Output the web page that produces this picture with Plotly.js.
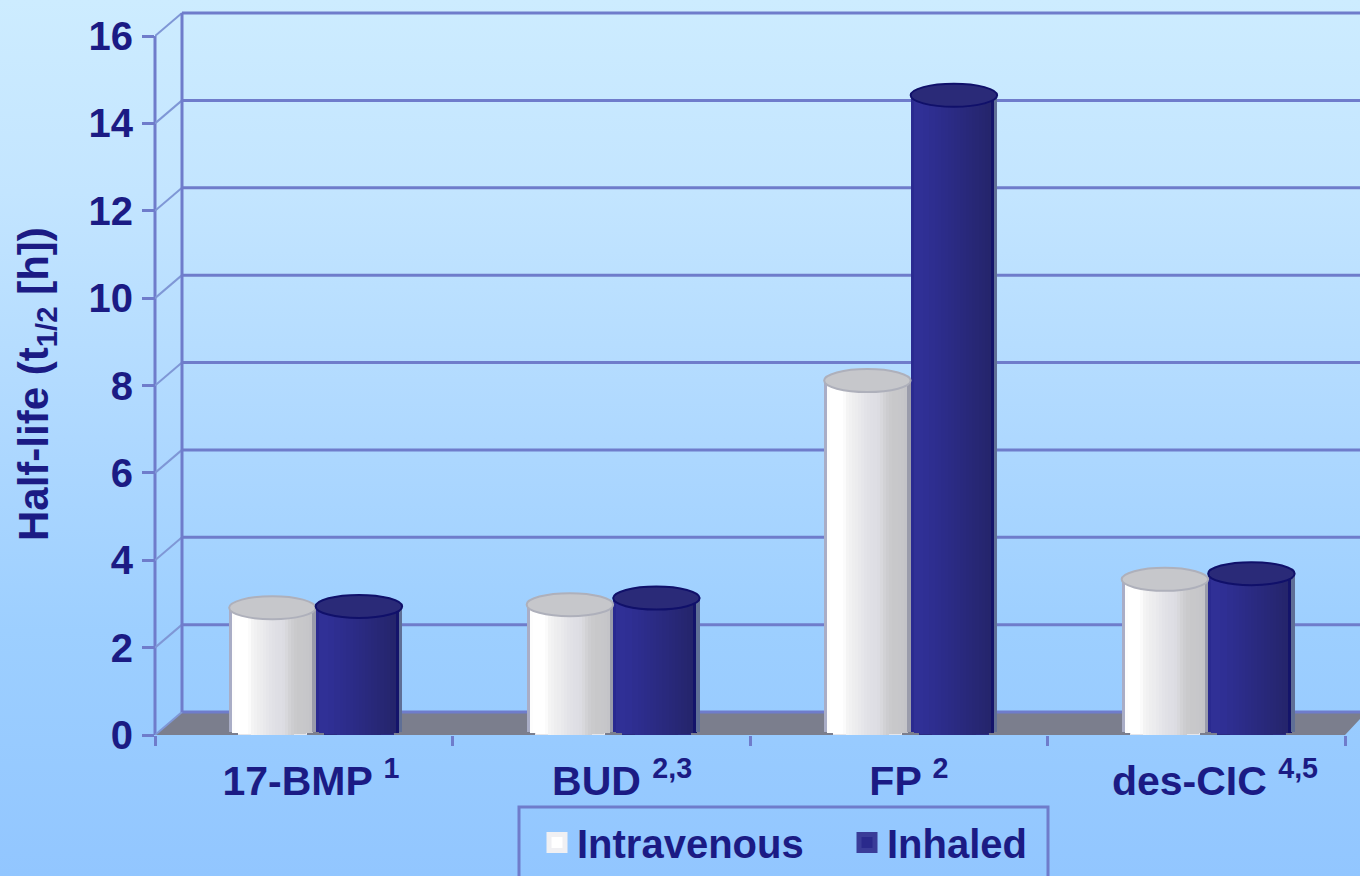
<!DOCTYPE html>
<html>
<head>
<meta charset="utf-8">
<title>Half-life of inhaled corticosteroids</title>
<script src="https://cdn.plot.ly/plotly-3.0.1.min.js"></script>
<style>
  html, body { margin: 0; padding: 0; width: 1360px; height: 876px; overflow: hidden;
    background: linear-gradient(180deg, #cdecff 0%, #c3e5ff 22%, #aed8ff 50%, #9dcfff 72%, #92c6ff 100%); }
  #chart { width: 1360px; height: 876px; }
</style>
</head>
<body>
<div id="chart"></div>
<script>
// Half-life values per compound
const categories = ['17-BMP', 'BUD', 'FP', 'des-CIC'];
const citations = ['1', '2,3', '2', '4,5'];
const intravenous = [2.65, 2.72, 7.85, 3.3];
const inhaled = [2.68, 2.87, 14.38, 3.43];

const yTicks = [0, 2, 4, 6, 8, 10, 12, 14, 16];
const labelPositions = [0.024, 1.07, 2.034, 3.063];
const categoryEdges = [-0.5, 0.5, 1.5, 2.5, 3.5];

// Horizontal shading bands across each cylinder, left to right
const whiteBands = ['#a9adc6', '#fdfdfd', '#ffffff', '#ffffff', '#ffffff', '#ffffff', '#fbfbfb', '#f4f4f4', '#f1f1f2', '#eeeeef', '#ececee', '#e9e9ec', '#e6e6ea', '#e3e3e8', '#e1e1e6', '#dfdfe5', '#dedee4', '#dcdce2', '#d8d8dc', '#d2d2d5', '#cdcdd0', '#cacacc', '#c8c8ca', '#c8c8ca', '#c7c7ca', '#c6c6c9', '#c4c4c8', '#9a9cab'];
const navyBands = ['#2a2a90', '#303096', '#303096', '#303096', '#2f2f94', '#2f2f94', '#2e2e90', '#2e2e90', '#2d2d8e', '#2d2d8c', '#2c2c8a', '#2c2c88', '#2b2b86', '#2b2b84', '#2a2a82', '#2a2a80', '#29297e', '#29297c', '#28287a', '#282878', '#272776', '#272774', '#262672', '#262670', '#25256e', '#25256c', '#14146a', '#5f6f96'];

// Chart geometry, in axis units
const PX_PER_CATEGORY = 297.5;
const PX_PER_UNIT = 699 / 16;
const PLOT_LEFT = 155, PLOT_BOTTOM = 735, PLOT_TOP = 5, PLOT_WIDTH = 1205;
const wallDx = 27 / PX_PER_CATEGORY;
const wallDy = 23 / PX_PER_UNIT;
const xMin = -0.5, xMax = xMin + PLOT_WIDTH / PX_PER_CATEGORY;
const yMax = (PLOT_BOTTOM - PLOT_TOP) / PX_PER_UNIT;
const barWidth = 86.5 / PX_PER_CATEGORY;
const groupShift = 0.04;
const capHeight = wallDy;
const cornerLift = 0.1;

const GRID = '#6f7ccb';
const INK = '#1b1b84';
const FONT = 'Liberation Sans, Arial, sans-serif';

const categoryIndex = categories.map((_, i) => i);
const traces = [];

// Solid core of each cylinder, one bar per value
function coreBar(values, colour, side) {
  return {
    type: 'bar', x: categoryIndex.map(i => i + groupShift + side * barWidth / 2), y: values,
    width: barWidth * 0.8, marker: { color: colour, line: { width: 0 } },
    showlegend: false, hoverinfo: 'skip'
  };
}
traces.push(coreBar(intravenous, '#e6e6ea', -1));
traces.push(coreBar(inhaled, '#2a2a80', 1));

// Shading bands, rising to the middle of the top cap and rounded at the foot
function shadeBands(values, bands, side) {
  const step = barWidth / bands.length;
  bands.forEach((colour, b) => {
    const t = (b + 0.5) / bands.length * 2 - 1;
    const lift = cornerLift * (1 - Math.sqrt(1 - t * t));
    traces.push({
      type: 'bar',
      x: categoryIndex.map(i => i + groupShift + side * barWidth / 2 + t * barWidth / 2),
      y: values.map(v => v + capHeight / 2 - lift),
      base: values.map(() => lift),
      width: step * 1.06,
      marker: { color: colour, line: { width: 0 } },
      showlegend: false, hoverinfo: 'skip'
    });
  });
}
shadeBands(intravenous, whiteBands, -1);
shadeBands(inhaled, navyBands, 1);

// Legend entries
function legendEntry(name, fill, edge) {
  return {
    type: 'scatter', mode: 'markers', name: name, x: [null], y: [null],
    marker: { symbol: 'square', size: 16, color: fill, line: { color: edge, width: 5 } },
    hoverinfo: 'skip'
  };
}
traces.push(legendEntry('Intravenous', '#ffffff', '#f0f0f3'));
traces.push(legendEntry('Inhaled', '#2a2a8c', '#3a3c98'));

const shapes = [];
const wallX = xMin + wallDx;

// Floor of the chart box
shapes.push({
  type: 'path', xref: 'x', yref: 'y', layer: 'below',
  path: `M ${xMin} 0 L ${wallX} ${wallDy} L ${xMax} ${wallDy} L ${xMax} ${wallDy * 0.7} L ${categoryEdges[4]} 0 Z`,
  fillcolor: '#7b7e8d', line: { width: 0 }
});

// Back wall gridlines and the side wall connectors
yTicks.forEach(v => {
  shapes.push({ type: 'line', xref: 'x', yref: 'y', layer: 'below', x0: wallX, x1: xMax, y0: v + wallDy, y1: v + wallDy, line: { color: GRID, width: 3 } });
  shapes.push({ type: 'line', xref: 'x', yref: 'y', layer: 'below', x0: xMin, x1: wallX, y0: v, y1: v + wallDy, line: { color: '#7f97d6', width: 2 } });
});
shapes.push({ type: 'line', xref: 'x', yref: 'y', layer: 'below', x0: wallX, x1: wallX, y0: wallDy, y1: 16 + wallDy, line: { color: GRID, width: 3 } });
// Vertical axis line
shapes.push({ type: 'line', xref: 'paper', yref: 'y', layer: 'below', x0: 0, x1: 0, y0: 0, y1: 16, line: { color: GRID, width: 3 } });

// Top caps of the cylinders
function topCaps(values, side, fill, edge) {
  values.forEach((v, i) => {
    const cx = i + groupShift + side * barWidth / 2;
    shapes.push({
      type: 'circle', xref: 'x', yref: 'y', layer: 'above',
      x0: cx - barWidth / 2, x1: cx + barWidth / 2, y0: v, y1: v + capHeight,
      fillcolor: fill, line: { color: edge, width: 2 }
    });
  });
}
topCaps(intravenous, -1, '#c6c7cb', '#aeb0bb');
topCaps(inhaled, 1, '#2a2a78', '#10106a');

// Legend frame, open past the lower edge of the page
const paperX = px => (px - PLOT_LEFT) / PLOT_WIDTH;
const paperY = px => (PLOT_BOTTOM - px) / (PLOT_BOTTOM - PLOT_TOP);
shapes.push({
  type: 'path', xref: 'paper', yref: 'paper', layer: 'above',
  path: `M ${paperX(519)} ${paperY(890)} L ${paperX(519)} ${paperY(807)} L ${paperX(1048)} ${paperY(807)} L ${paperX(1048)} ${paperY(890)}`,
  line: { color: GRID, width: 3 }
});

// Axis title placed by hand, centred on the back wall rather than the plot area
const annotations = [{
  text: 'Half-life (t<sub>1/2</sub> [h])', textangle: -90, showarrow: false,
  xref: 'paper', yref: 'paper', x: paperX(36), y: paperY(384), xanchor: 'center', yanchor: 'middle',
  font: { family: FONT, size: 42, color: INK, weight: 'bold' }
}];

const layout = {
  width: 1360, height: 876,
  margin: { l: PLOT_LEFT, r: 0, t: PLOT_TOP, b: 876 - PLOT_BOTTOM, autoexpand: false },
  paper_bgcolor: 'rgba(0,0,0,0)', plot_bgcolor: 'rgba(0,0,0,0)',
  barmode: 'overlay', bargap: 0,
  font: { family: FONT, color: INK },
  showlegend: true,
  xaxis: {
    type: 'linear', range: [xMin, xMax], showgrid: false, zeroline: false, showline: false,
    tickmode: 'array', tickvals: labelPositions,
    ticktext: categories.map((c, i) => `${c} <sup>${citations[i]}</sup>`),
    ticks: '', ticklabelstandoff: 18,
    tickfont: { family: FONT, size: 41, color: INK, weight: 'bold' },
    minor: { tickmode: 'array', tickvals: categoryEdges, ticks: 'outside', ticklen: 10, tickwidth: 3, tickcolor: GRID, showgrid: false }
  },
  yaxis: {
    range: [0, yMax], showgrid: false, zeroline: false, showline: false,
    tickmode: 'array', tickvals: yTicks, ticktext: yTicks.map(String),
    ticks: 'outside', ticklen: 12, tickwidth: 3, tickcolor: GRID, ticklabelstandoff: 1,
    tickfont: { family: FONT, size: 40, color: INK, weight: 'bold' }
  },
  legend: {
    orientation: 'h', x: paperX(537), xanchor: 'left', y: paperY(810), yanchor: 'top',
    bgcolor: 'rgba(0,0,0,0)', borderwidth: 0, entrywidth: 265, entrywidthmode: 'pixels',
    font: { family: FONT, size: 40, color: INK, weight: 'bold' }
  },
  annotations: annotations,
  shapes: shapes
};

Plotly.newPlot('chart', traces, layout, { displayModeBar: false, staticPlot: true });
</script>
</body>
</html>
